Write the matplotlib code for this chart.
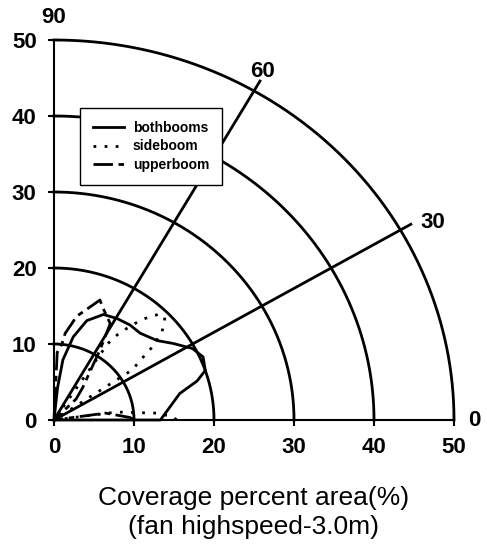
import numpy as np
import matplotlib
matplotlib.use('Agg')
import matplotlib.pyplot as plt

plt.rcParams['font.family'] = ['Liberation Sans', 'DejaVu Sans']

# polar readings: angle (deg) and radius (% area)
both_ang = [0, 0, 12.5, 16, 19, 24, 28.5, 34, 39, 46.7, 52.8, 59.5, 66, 72.6, 77.6, 82, 84, 90]
both_r = [0, 13.3, 16.1, 18.6, 20.0, 20.4, 19.7, 18.0, 16.6, 15.7, 15.7, 15.5, 15.2, 13.7, 11.2, 8.0, 4.3, 0]

side_ang = [0, 1.5, 4, 7.6, 10, 30, 34, 35.6, 37, 38, 39.4, 40.7, 42.5, 44.4, 46.9, 48.6,
            50.2, 51.8, 53.2, 54.8, 56.2, 60]
side_r = [15.3, 15.0, 12.9, 7.9, 0, 0, 11.8, 13.0, 14.3, 15.6, 16.7, 17.8, 18.65, 19.4, 19.0, 18.1,
          17.2, 16.0, 14.9, 13.7, 12.1, 0]

upper_ang = [0, 2, 8, 10, 40, 45, 50, 56, 58, 61, 67.6, 70, 78.4, 80, 83, 84.3, 87.4, 90]
upper_r = [10.0, 9.5, 6.5, 0, 0, 3.9, 5.6, 8.7, 10.8, 14.5, 16.0, 16.8, 13.9, 12.9, 11.5, 10.1, 8.9, 0]

rings = [10, 20, 30, 40, 50]
spokes = [30, 60]
ticks = [0, 10, 20, 30, 40, 50]


def to_xy(ang, r):
    a = np.radians(ang)
    r = np.asarray(r)
    return r * np.cos(a), r * np.sin(a)


fig = plt.figure(figsize=(4.87, 5.5), dpi=100)
ax = fig.add_axes([54 / 487, 130 / 550, 400 / 487, 380 / 550])

# grid arcs and spokes
t = np.linspace(0, 90, 200)
for rr in rings:
    x, y = to_xy(t, np.full_like(t, rr))
    ax.plot(x, y, color='black', lw=2, clip_on=False)
for s in spokes:
    x, y = to_xy([s, s], [0, 51.5])
    ax.plot(x, y, color='black', lw=2, clip_on=False)

x, y = to_xy(both_ang, both_r)
ax.plot(x, y, color='black', lw=2, label='bothbooms', clip_on=False)
x, y = to_xy(side_ang, side_r)
ax.plot(x, y, color='black', lw=2, ls=(0, (1, 3)), label='sideboom', clip_on=False)
x, y = to_xy(upper_ang, upper_r)
ax.plot(x, y, color='black', lw=2, ls=(0, (7, 2, 2, 2)), label='upperboom', clip_on=False)

ax.set_xlim(0, 50)
ax.set_ylim(0, 50)
ax.set_xticks(ticks)
ax.set_yticks(ticks)
for side in ['top', 'right']:
    ax.spines[side].set_visible(False)
for side in ['left', 'bottom']:
    ax.spines[side].set_linewidth(1.5)
ax.tick_params(direction='inout', length=9, width=1.5, labelsize=16, pad=8)
for lab in ax.get_xticklabels() + ax.get_yticklabels():
    lab.set_fontweight('bold')

# angle labels
ax.text(0, 53, '90', ha='center', va='center', fontsize=16, fontweight='bold')
ax.text(26.1, 45.9, '60', ha='center', va='center', fontsize=16, fontweight='bold')
ax.text(47.3, 26, '30', ha='center', va='center', fontsize=16, fontweight='bold')
ax.text(52.6, 0, '0', ha='center', va='center', fontsize=16, fontweight='bold')

ax.set_xlabel('Coverage percent area(%)\n(fan highspeed-3.0m)', fontsize=19, labelpad=20,
              linespacing=1.25)

leg = ax.legend(loc='upper left', bbox_to_anchor=(0.065, 0.821), fancybox=False,
                edgecolor='black', framealpha=1, borderaxespad=0, handlelength=2.3,
                handletextpad=0.6, prop={'size': 10, 'weight': 'bold'},
                labelspacing=0.35, borderpad=0.9)
leg.get_frame().set_linewidth(1)

fig.savefig('out.png', dpi=100)
